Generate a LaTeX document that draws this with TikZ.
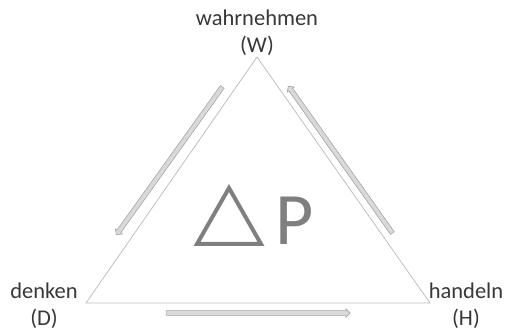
\documentclass[tikz,border=0pt]{standalone}
\usepackage{fontspec}
\setmainfont{Carlito}
\usetikzlibrary{shapes.arrows}
\definecolor{txt}{HTML}{383838}
\definecolor{tri}{HTML}{BFBFBF}
\definecolor{arrfill}{HTML}{D9D9D9}
\definecolor{arrline}{HTML}{A6A6A6}
\definecolor{big}{HTML}{7F7F7F}
\tikzset{
  lbl/.style={align=center, inner sep=0pt, text=txt, font=\fontsize{22.5}{27}\selectfont},
  flow/.style={single arrow, draw=arrline, fill=arrfill, line width=0.6pt, inner sep=2pt,
    minimum width=8.5pt, single arrow head extend=2pt, single arrow tip angle=90}
}
\begin{document}
\begin{tikzpicture}[x=1pt,y=-1pt]
\useasboundingbox (0,0) rectangle (509,331);
\coordinate (top) at (257,57);
\coordinate (bl) at (86,303);
\coordinate (br) at (430,303);
\draw[tri, line width=0.8pt, line join=miter] (top) -- (br) -- (bl) -- cycle;
\node[lbl] (W) at (257,33) {wahrnehmen\\(W)};
\node[lbl] (D) at (44,306) {denken\\(D)};
\node[lbl] (H) at (466,306) {handeln\\(H)};
\node[flow, minimum height=182pt, rotate=234.4] (a1) at (170,160) {};
\node[flow, minimum height=180pt, rotate=125.3] (a2) at (341,160.5) {};
\node[flow, minimum height=184pt] (a3) at (257,313) {};
\draw[big, line width=4pt, line join=miter] (197,244) -- (229,188) -- (261,244) -- cycle;
\node[text=big, inner sep=0pt, anchor=base west, font=\fontsize{74}{80}\selectfont] (P) at (275,245) {P};
\end{tikzpicture}
\end{document}
